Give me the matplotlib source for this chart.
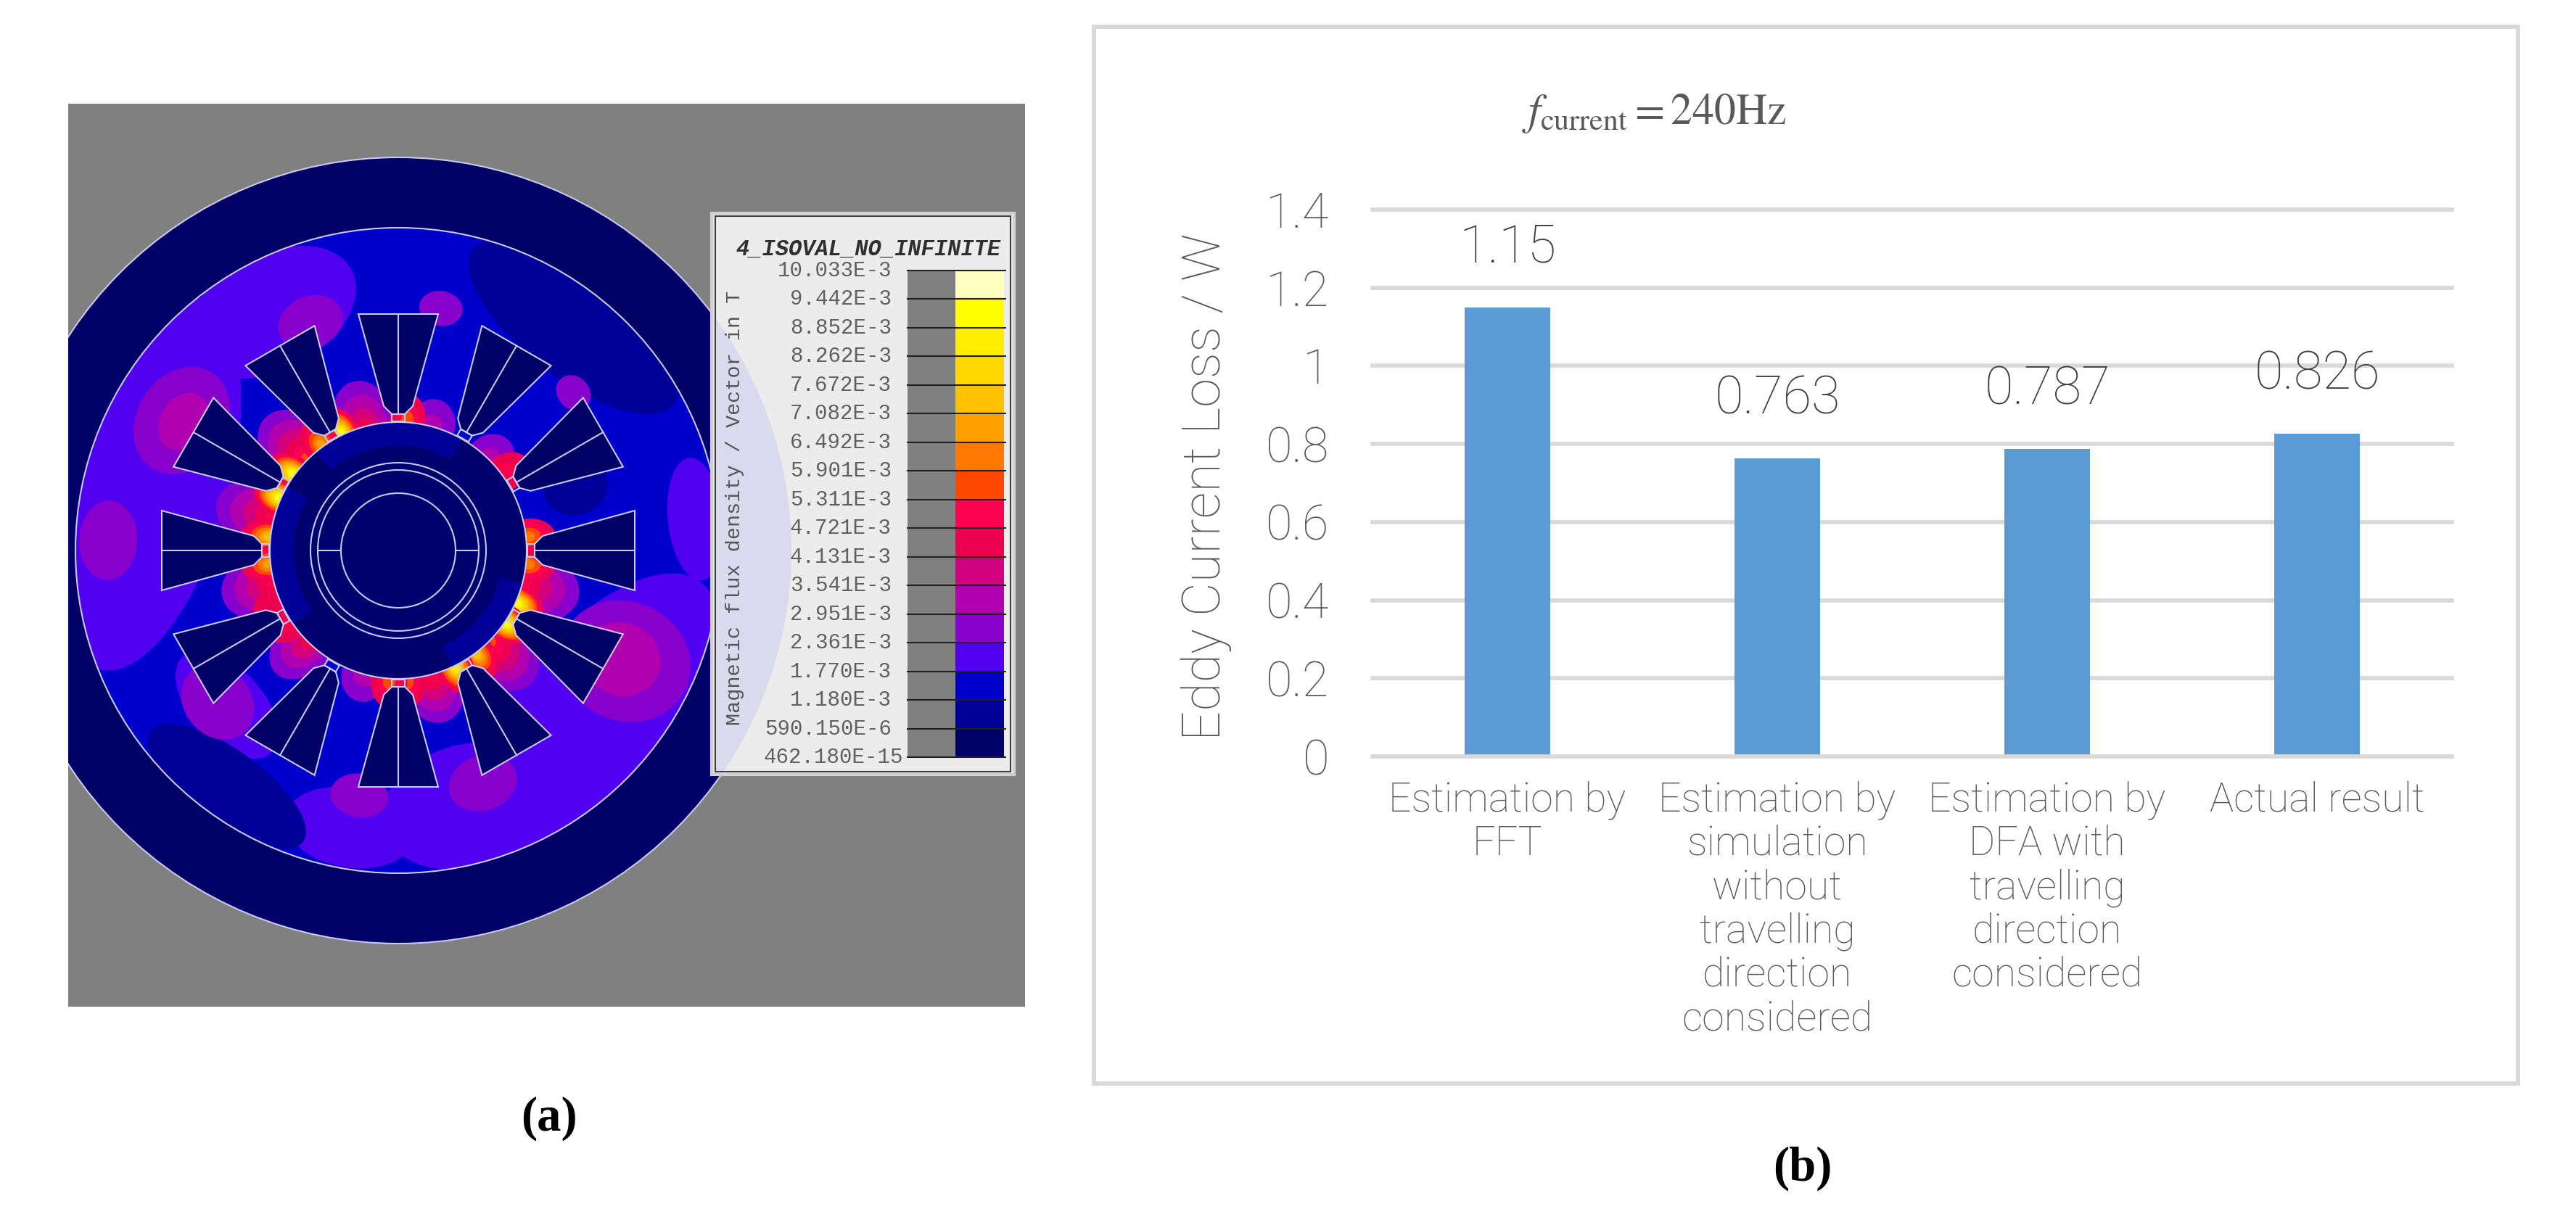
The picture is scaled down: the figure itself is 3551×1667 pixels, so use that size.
import numpy as np
import matplotlib
matplotlib.use('Agg')
import matplotlib.pyplot as plt
from matplotlib.patches import Polygon, Circle, Rectangle

#------------------------------------------- data -----------------------------------------#
categories = ['Estimation by\nFFT',
              'Estimation by\nsimulation\nwithout\ntravelling\ndirection\nconsidered',
              'Estimation by\nDFA with\ntravelling\ndirection\nconsidered',
              'Actual result']
eddy_loss = [1.15, 0.763, 0.787, 0.826]
value_labels = ['1.15', '0.763', '0.787', '0.826']
y_ticks = [0, 0.2, 0.4, 0.6, 0.8, 1.0, 1.2, 1.4]
y_tick_labels = ['0', '0.2', '0.4', '0.6', '0.8', '1', '1.2', '1.4']

# iso-value legend of the field plot, top to bottom
iso_labels = ['10.033E-3', '9.442E-3', '8.852E-3', '8.262E-3', '7.672E-3', '7.082E-3',
              '6.492E-3', '5.901E-3', '5.311E-3', '4.721E-3', '4.131E-3', '3.541E-3',
              '2.951E-3', '2.361E-3', '1.770E-3', '1.180E-3', '590.150E-6', '462.180E-15']
iso_colors = ['#ffffc0', '#ffff00', '#ffee00', '#ffd800', '#ffc000', '#ffa000',
              '#ff7800', '#ff4800', '#ff0050', '#ee0050', '#d0007f', '#b000b0',
              '#8800cc', '#5000ee', '#0000cc', '#000099', '#000066']
level_colors = iso_colors[::-1]   # index 0 = lowest level

# motor geometry (pixels of the figure)
slot_angles = [0, 30, 60, 90, 120, 150, 180, 210, 240, 270, 300, 330]
slot_shape = [(-9, 188), (-20, 199), (-55, 326), (55, 326), (20, 199), (9, 188)]   # (tangential, radius)
rotor_rings = [121, 111, 79]

# field regions: (angle, radius, radial half size, tangential half size, level)
field_blobs = [(165, 355, 110, 265, 3), (118, 372, 80, 125, 3), (222, 318, 50, 90, 3),
               (-40, 350, 110, 235, 3), (-75, 365, 85, 120, 3), (-100, 388, 55, 90, 3),
               (6, 412, 38, 85, 3),
               (52, 392, 70, 175, 1), (234, 402, 50, 130, 1), (20, 260, 45, 40, 1),
               (149, 348, 62, 78, 4), (149, 345, 32, 42, 5), (220, 325, 46, 56, 4),
               (-26, 348, 92, 82, 4), (-26, 342, 55, 50, 5), (111, 337, 36, 46, 4),
               (80, 339, 24, 30, 4), (-99, 342, 30, 40, 4), (-70, 341, 38, 48, 4),
               (42, 325, 22, 26, 4), (178, 400, 40, 55, 4)]
# tooth tips next to the bore: (angle, peak level, radial reach, tangential reach)
tooth_spots = [(165, 8, 80, 48), (135, 9, 80, 48), (105, 7, 62, 40), (195, 8, 72, 46),
               (225, 7, 60, 36), (255, 5, 36, 28), (75, 5, 36, 28), (45, 5, 36, 28),
               (-15, 8, 78, 48), (-45, 9, 80, 48), (-75, 8, 66, 42)]
# hottest spots on the slot openings: (angle, peak level)
flank_spots = [(144, 15), (156, 15), (174, 12), (186, 11), (116, 15), (126, 11), (86, 9),
               (-6, 10), (6, 10), (-24, 15), (-34, 15), (-53, 12), (-64, 14), (-86, 9),
               (-94, 9), (36, 8), (213, 8), (204, 7)]
# rotor rim regions: (r_in, r_out, angle_from, angle_to, level)
rotor_sectors = [(145, 177, 60, 130, 1), (145, 177, 150, 215, 1), (145, 177, -65, -15, 1)]

#------------------------------------------- figure -----------------------------------------#
W, H = 3551, 1667
plt.rcParams['mathtext.fontset'] = 'stix'
fig = plt.figure(figsize=(W / 100, H / 100), dpi=100)
fig.patch.set_facecolor('white')

excel_font = ['Roboto', 'DejaVu Sans']
grey_txt = '#595959'

#------------------------------------------- (a) field plot -----------------------------------------#
ax_a = fig.add_axes([94 / W, 1 - 1388 / H, (1413 - 94) / W, (1388 - 143) / H])
ax_a.set_xlim(94, 1413)
ax_a.set_ylim(1388, 143)
ax_a.set_facecolor('#808080')
ax_a.set_xticks([])
ax_a.set_yticks([])
for s in ax_a.spines.values():
    s.set_visible(False)

cx, cy = 549, 759
R_OUT, R_ST, R_BORE = 542, 445, 177
line_c = '#c8c8f0'


def to_xy(r, ang, t=0.0):
    a = np.radians(ang)
    return cx + r * np.cos(a) - t * np.sin(a), cy - (r * np.sin(a) + t * np.cos(a))


def sector(r1, r2, a1, a2, n=90):
    t = np.linspace(a1, a2, n)
    xo, yo = to_xy(r2, t)
    xi, yi = to_xy(r1, t[::-1])
    return np.column_stack([np.concatenate([xo, xi]), np.concatenate([yo, yi])])


def blob(ang, r, dr, dt, n=72):
    p = np.linspace(0, 2 * np.pi, n)
    x, y = to_xy(r + dr * np.cos(p), ang, dt * np.sin(p))
    return np.column_stack([x, y])


def field_patch(pts, lev, z):
    p = Polygon(pts, closed=True, facecolor=level_colors[lev], edgecolor='none', zorder=z)
    ax_a.add_patch(p)
    p.set_clip_path(stator_clip)


ax_a.add_patch(Circle((cx, cy), R_OUT, facecolor=level_colors[0], edgecolor=line_c, lw=1.5, zorder=1))
stator_clip = Circle((cx, cy), R_ST, transform=ax_a.transData)
ax_a.add_patch(Circle((cx, cy), R_ST, facecolor=level_colors[2], edgecolor='none', zorder=2))

for ang, r, dr, dt, lev in field_blobs:
    field_patch(blob(ang, r, dr, dt), lev, 3)

for ang, kpeak, reach_r, reach_t in tooth_spots:
    n = kpeak - 4
    for k in range(4, kpeak + 1):
        f = (1.0 - (k - 4) / (n + 1.0)) ** 1.3
        field_patch(blob(ang, R_BORE + 2, reach_r * f, reach_t * f + 4), k, 4)

for ang, kpeak in flank_spots:
    n = kpeak - 7
    for k in range(7, kpeak + 1):
        f = (1.0 - (k - 7) / (n + 1.0)) ** 1.2
        field_patch(blob(ang, R_BORE + 3, 34 * f + 3, 22 * f + 3), k, 5)

# slots
for ang in slot_angles:
    pts = [to_xy(r, ang, t) for t, r in slot_shape]
    ax_a.add_patch(Polygon(pts, closed=True, facecolor=level_colors[0], edgecolor=line_c, lw=1.5, zorder=6))
    ax_a.plot(*zip(to_xy(188, ang), to_xy(326, ang)), color=line_c, lw=1.5, zorder=7)
    tab = [to_xy(178, ang, -9), to_xy(188, ang, -9), to_xy(188, ang, 9), to_xy(178, ang, 9)]
    ax_a.add_patch(Polygon(tab, closed=True, facecolor='none', edgecolor=line_c, lw=1.5, zorder=7))

# rotor
ax_a.add_patch(Circle((cx, cy), R_BORE, facecolor='#00006e', edgecolor='none', zorder=8))
for r1, r2, a1, a2, lev in rotor_sectors:
    ax_a.add_patch(Polygon(sector(r1, r2, a1, a2), closed=True, facecolor=level_colors[lev],
                           edgecolor='none', zorder=8.5))
ax_a.add_patch(Circle((cx, cy), R_BORE, facecolor='none', edgecolor=line_c, lw=1.5, zorder=9))
for rr in rotor_rings:
    ax_a.add_patch(Circle((cx, cy), rr, facecolor='none', edgecolor=line_c, lw=1.5, zorder=9))
for ang in (0, 180):
    ax_a.plot(*zip(to_xy(79, ang), to_xy(111, ang)), color=line_c, lw=1.5, zorder=9)
ax_a.add_patch(Circle((cx, cy), R_ST, facecolor='none', edgecolor=line_c, lw=1.5, zorder=9))

# iso-value legend box
bx0, by0, bx1, by1 = 981, 294, 1398, 1068
ax_a.add_patch(Rectangle((bx0, by0), bx1 - bx0, by1 - by0, facecolor='#ececec',
                         edgecolor='#d0d0d0', lw=3, zorder=20))
lav = Circle((cx, cy), R_OUT, facecolor='#dadaee', edgecolor='none', zorder=21)
ax_a.add_patch(lav)
lav.set_clip_path(Rectangle((bx0 + 4, by0 + 4), bx1 - bx0 - 8, by1 - by0 - 8, transform=ax_a.transData))
ax_a.add_patch(Rectangle((bx0 + 5, by0 + 4), bx1 - bx0 - 10, by1 - by0 - 8, facecolor='none',
                         edgecolor='#404040', lw=1.5, zorder=22))

cb_top, cb_bot = 373, 1044
cb_x0, cb_x1, cb_x2 = 1251, 1317, 1384
band = (cb_bot - cb_top) / len(iso_colors)
for i, c in enumerate(iso_colors):
    y0 = cb_top + i * band
    ax_a.add_patch(Rectangle((cb_x0, y0), cb_x1 - cb_x0, band, facecolor='#808080', edgecolor='none', zorder=23))
    ax_a.add_patch(Rectangle((cb_x1, y0), cb_x2 - cb_x1, band, facecolor=c, edgecolor='none', zorder=23))
for i, lab in enumerate(iso_labels):
    yb = cb_top + i * band
    ax_a.plot([cb_x0, cb_x2 + 2], [yb, yb], color='#202020', lw=1.5, zorder=24)
    if i == len(iso_labels) - 1:
        ax_a.text(1052, yb, lab, ha='left', va='center', fontsize=21, family='Liberation Mono',
                  color='#606060', zorder=25)
    else:
        ax_a.text(1229, yb, lab, ha='right', va='center', fontsize=21, family='Liberation Mono',
                  color='#606060', zorder=25)
ax_a.text(1197, 344, '4_ISOVAL_NO_INFINITE', ha='center', va='center', fontsize=22,
          family='Liberation Mono', fontweight='bold', style='italic', color='#303030', zorder=25)
ax_a.text(1013, 700, 'Magnetic flux density / Vector in T', rotation=90, ha='center', va='center',
          fontsize=20.5, family='Liberation Mono', color='#555555', zorder=25)

#------------------------------------------- (b) bar chart -----------------------------------------#
ax = fig.add_axes([1892 / W, 1 - 1043 / H, (3380 - 1892) / W, (1043 - 289) / H])
x = np.arange(len(categories))
ax.bar(x, eddy_loss, width=0.317, color='#5b9bd5', zorder=2)
ax.set_xlim(-0.5, 3.5)
ax.set_ylim(0, 1.4)
for t in y_ticks:
    ax.axhline(t, color='#d9d9d9', lw=4.1, zorder=1 if t > 0 else 3, clip_on=False)
for s in ax.spines.values():
    s.set_visible(False)
ax.set_facecolor('none')
ax.set_yticks(y_ticks)
ax.set_yticklabels(y_tick_labels, fontsize=48, color=grey_txt, family=excel_font, fontweight='light')
ax.set_xticks(x)
ax.set_xticklabels(categories, fontsize=40, color=grey_txt, family=excel_font, fontweight='light',
                   linespacing=1.17, ha='center', va='top')
ax.tick_params(axis='y', length=0, pad=43)
ax.tick_params(axis='x', length=0, pad=24)

for xi, v, lab in zip(x, eddy_loss, value_labels):
    ax.annotate(lab, (xi, v), xytext=(0, 44.6), textcoords='offset points', ha='center',
                va='baseline', fontsize=52, color='#404040', family=excel_font, fontweight='light')

fig.text(1663 / W, 1 - 671 / H, 'Eddy Current Loss / W', rotation=90, ha='center', va='center',
         fontsize=52, color=grey_txt, family=excel_font, fontweight='light')
fig.text(2280 / W, 1 - 156 / H, r'$f_{\mathrm{current}}=240\mathrm{Hz}$', ha='center', va='center',
         fontsize=43, color=grey_txt)

fig.patches.append(Rectangle((1508 / W, 1 - 1494 / H), (3471 - 1508) / W, (1494 - 37) / H,
                             transform=fig.transFigure, fill=False, edgecolor='#d9d9d9', lw=4.3))

fig.text(757 / W, 1 - 1542 / H, '(a)', ha='center', va='center', fontsize=48,
         family='Liberation Serif', fontweight='bold')
fig.text(2485 / W, 1 - 1611 / H, '(b)', ha='center', va='center', fontsize=48,
         family='Liberation Serif', fontweight='bold')

fig.savefig('out.png', dpi=100)
